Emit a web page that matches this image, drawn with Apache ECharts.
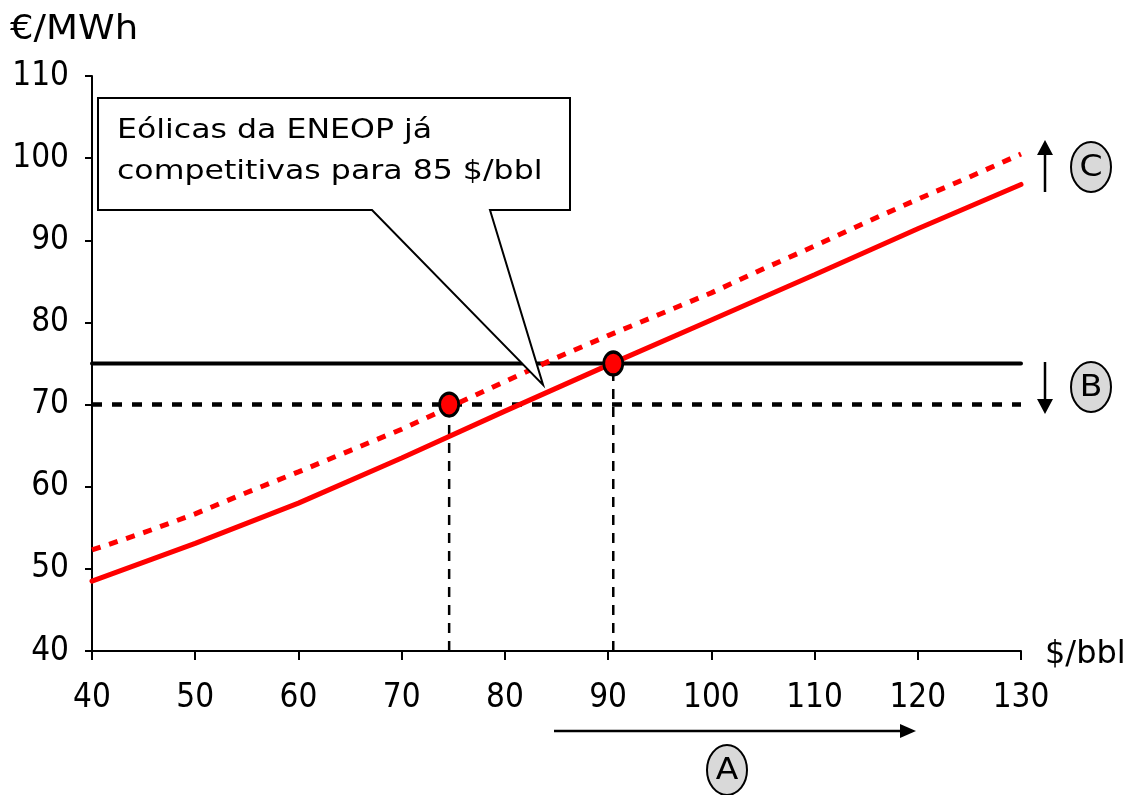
<!DOCTYPE html>
<html>
<head>
<meta charset="utf-8">
<script src="https://cdn.jsdelivr.net/npm/echarts@6/dist/echarts.min.js"></script>
<style>
  html, body { margin: 0; padding: 0; background: #fff; }
  #chart { width: 1129px; height: 795px; }
</style>
</head>
<body>
<div id="chart"></div>
<script>
// Oil price ($/bbl) against cost of electricity (€/MWh)
const oilPrice = [40, 50, 60, 70, 80, 90, 100, 110, 120, 130];
const costBase = [48.5, 53.1, 58.0, 63.5, 69.2, 74.8, 80.3, 85.8, 91.4, 96.8];

const oilPriceFine = [40, 45, 50, 55, 60, 65, 70, 75, 80, 85, 90, 95, 100, 105, 110, 115, 120, 125, 130];
const costHigh = [52.3, 54.4, 56.7, 59.3, 61.8, 64.4, 67.0, 69.9, 72.8, 75.7, 78.4, 81.0, 83.6, 86.5, 89.3, 92.2, 95.0, 97.7, 100.5];

const windCost = 75;        // solid black level
const windCostLow = 70;     // dotted black level
const breakEvenX = [74.6, 90.5];
const breakEvenY = [70, 75];

const xTicks = [40, 50, 60, 70, 80, 90, 100, 110, 120, 130];
const yTicks = [40, 50, 60, 70, 80, 90, 100, 110];

const calloutLines = ['Eólicas da ENEOP já', 'competitivas para 85 $/bbl'];

const xMin = xTicks[0], xMax = xTicks[xTicks.length - 1];
const yMin = yTicks[0], yMax = yTicks[yTicks.length - 1];

const zip = (xs, ys) => xs.map((x, i) => [x, ys[i]]);

const tickFont = '"Liberation Sans Narrow", "DejaVu Sans Condensed", "Arial Narrow", "Liberation Sans", sans-serif';
const textFont = '"DejaVu Sans", sans-serif';

const chart = echarts.init(document.getElementById('chart'), null, { renderer: 'canvas' });

function arrowShape(x1, y1, x2, y2, headLen, headHalf) {
  const dx = x2 - x1, dy = y2 - y1;
  const len = Math.sqrt(dx * dx + dy * dy);
  const ux = dx / len, uy = dy / len;
  const bx = x2 - ux * headLen, by = y2 - uy * headLen;
  return [
    { type: 'line', shape: { x1: x1, y1: y1, x2: bx, y2: by }, style: { stroke: '#000', lineWidth: 2.5 }, z: 100 },
    { type: 'polygon', shape: { points: [[x2, y2], [bx - uy * headHalf, by + ux * headHalf], [bx + uy * headHalf, by - ux * headHalf]] }, style: { fill: '#000' }, z: 100 }
  ];
}

function badge(cx, cy, letter) {
  return [
    { type: 'ellipse', shape: { cx: cx, cy: cy, rx: 20, ry: 25 }, style: { fill: '#d9d9d9', stroke: '#000', lineWidth: 2 }, z: 100 },
    { type: 'text', x: cx, y: cy + 1, scaleX: 1.1, style: { text: letter, fontSize: 30, fontFamily: textFont, fill: '#000', align: 'center', verticalAlign: 'middle' }, z: 101 }
  ];
}

const option = {
  animation: false,
  backgroundColor: '#fff',
  grid: { left: 92, top: 76, width: 929, height: 575, containLabel: false },
  xAxis: {
    type: 'value', min: xMin, max: xMax, interval: 10,
    axisLine: { show: true, onZero: false, lineStyle: { color: '#000', width: 2 } },
    axisTick: { show: true, length: 9, lineStyle: { color: '#000', width: 2 } },
    axisLabel: { color: '#000', fontSize: 33, fontFamily: tickFont, margin: 31 },
    splitLine: { show: false }
  },
  yAxis: {
    type: 'value', min: yMin, max: yMax, interval: 10,
    axisLine: { show: true, onZero: false, lineStyle: { color: '#000', width: 2 } },
    axisTick: { show: true, length: 7, lineStyle: { color: '#000', width: 2 } },
    axisLabel: { color: '#000', fontSize: 33, fontFamily: tickFont, margin: 23 },
    splitLine: { show: false }
  },
  series: [
    {
      name: 'nivel70', type: 'line', showSymbol: false, silent: true, z: 2,
      data: [[xMin, windCostLow], [xMax, windCostLow]],
      lineStyle: { color: '#000', width: 4.5, type: [10, 10] }
    },
    {
      name: 'nivel75', type: 'line', showSymbol: false, silent: true, z: 2,
      data: [[xMin, windCost], [xMax, windCost]],
      lineStyle: { color: '#000', width: 4, cap: 'round' }
    },
    {
      name: 'guia1', type: 'line', showSymbol: false, silent: true, z: 2,
      data: [[breakEvenX[0], yMin], [breakEvenX[0], breakEvenY[0]]],
      lineStyle: { color: '#000', width: 2.5, type: [10, 8] }
    },
    {
      name: 'guia2', type: 'line', showSymbol: false, silent: true, z: 2,
      data: [[breakEvenX[1], yMin], [breakEvenX[1], breakEvenY[1]]],
      lineStyle: { color: '#000', width: 2.5, type: [10, 8] }
    },
    {
      name: 'alto', type: 'line', showSymbol: false, silent: true, z: 3,
      data: zip(oilPriceFine, costHigh),
      lineStyle: { color: '#ff0000', width: 5, type: [9, 9] }
    },
    {
      name: 'base', type: 'line', showSymbol: false, silent: true, z: 3,
      data: zip(oilPrice, costBase),
      lineStyle: { color: '#ff0000', width: 5, cap: 'round' }
    },
    {
      name: 'equilibrio', type: 'scatter', silent: true, z: 5,
      data: zip(breakEvenX, breakEvenY),
      symbol: 'circle', symbolSize: [19, 23],
      itemStyle: { color: '#ff0000', borderColor: '#000', borderWidth: 3, opacity: 1 }
    }
  ]
};

chart.setOption(option);

// Annotations placed relative to the plotting grid
const tip = chart.convertToPixel({ gridIndex: 0 }, [83.7, 72.4]);
const graphics = [];

graphics.push({
  type: 'text', x: 10, y: 30, scaleX: 1.09,
  style: { text: '€/MWh', fontSize: 34, fontFamily: textFont, fill: '#000', verticalAlign: 'middle' }, z: 100
});
graphics.push({
  type: 'text', x: 1045, y: 655,
  style: { text: '$/bbl', fontSize: 32, fontFamily: textFont, fill: '#000', verticalAlign: 'middle' }, z: 100
});

// Speech-bubble callout
graphics.push({
  type: 'polygon', z: 90,
  shape: { points: [[98, 98], [570, 98], [570, 210], [490, 210], tip, [372, 210], [98, 210]] },
  style: { fill: '#fff', stroke: '#000', lineWidth: 2, lineJoin: 'miter' }
});
calloutLines.forEach((t, i) => {
  graphics.push({
    type: 'text', x: 117, y: 131 + i * 41, scaleX: 1.17, z: 95,
    style: { text: t, fontSize: 27, fontFamily: textFont, fill: '#000', verticalAlign: 'middle' }
  });
});

// Direction arrows and labels
graphics.push(...arrowShape(1045, 192, 1045, 140, 15, 8));
graphics.push(...badge(1091, 167, 'C'));
graphics.push(...arrowShape(1045, 362, 1045, 414, 15, 8));
graphics.push(...badge(1091, 387, 'B'));
graphics.push(...arrowShape(554, 731, 916, 731, 16, 7));
graphics.push(...badge(727, 770, 'A'));

chart.setOption({ graphic: { elements: graphics } });
</script>
</body>
</html>
